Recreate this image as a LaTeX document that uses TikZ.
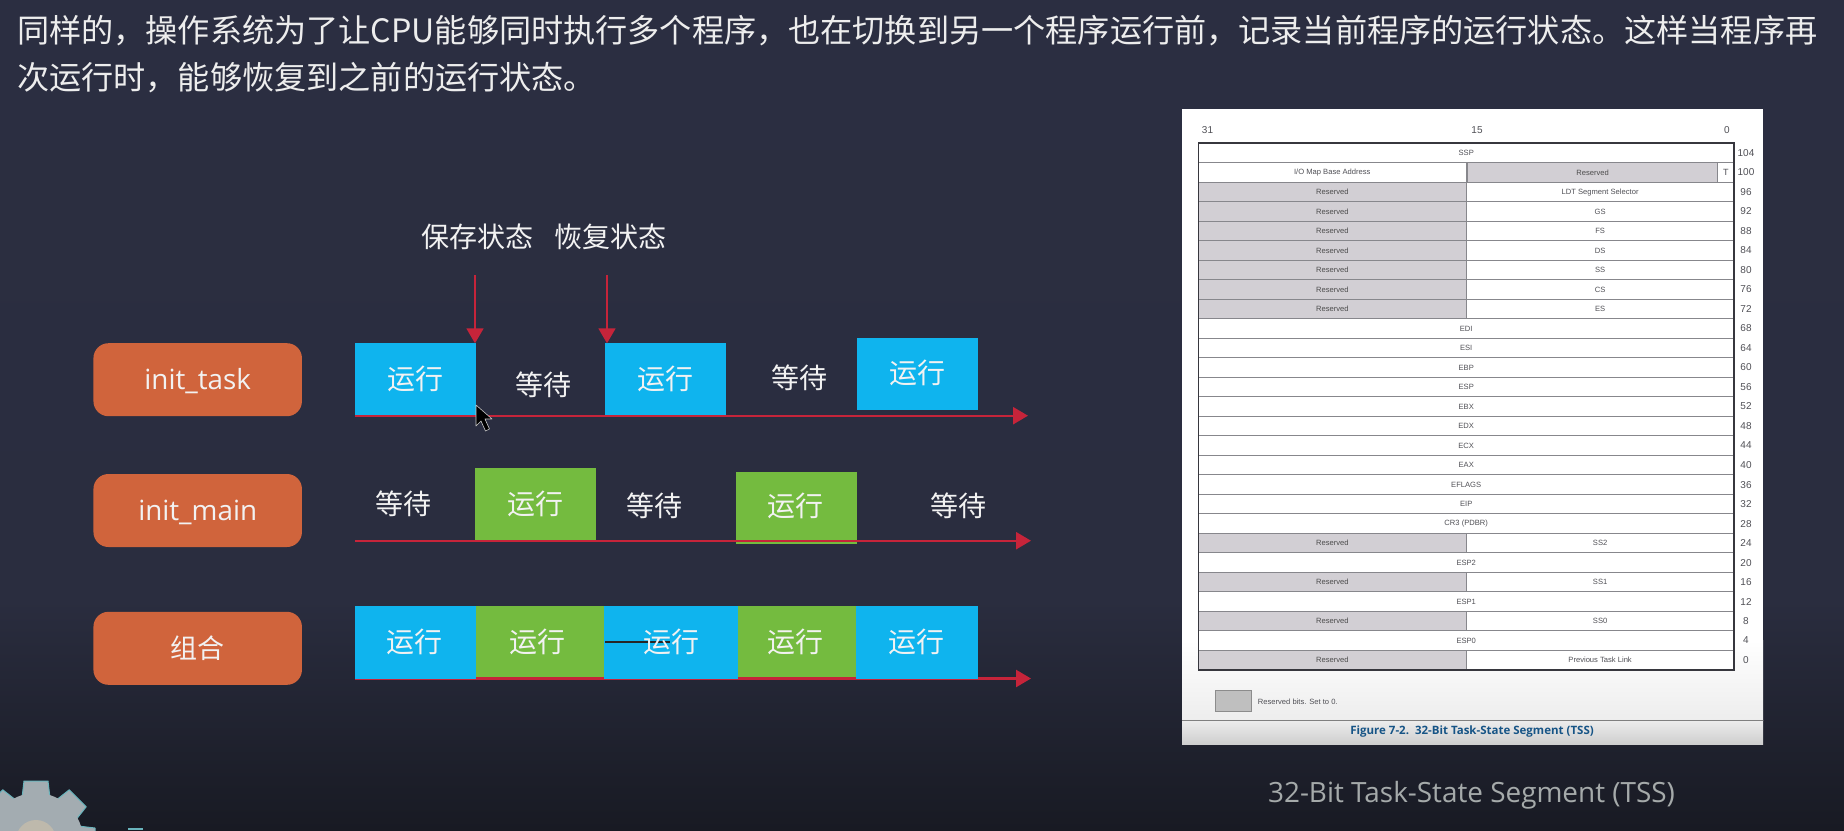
\documentclass[tikz,border=0pt]{standalone}
\usepackage{fontspec}
\usetikzlibrary{arrows.meta}
\setmainfont{Open Sans}
\newfontfamily\cjk{Noto Sans CJK SC}
\newfontfamily\tbl{Liberation Sans}
\definecolor{bgtop}{RGB}{43,46,65}
\definecolor{bgmid}{RGB}{42,45,63}
\definecolor{bgbot}{RGB}{24,26,35}
\definecolor{runblue}{RGB}{15,180,238}
\definecolor{rungreen}{RGB}{116,187,63}
\definecolor{pillor}{RGB}{208,100,60}
\definecolor{axisred}{RGB}{198,36,58}
\definecolor{resgrey}{RGB}{210,207,212}
\definecolor{rowline}{RGB}{135,135,140}
\definecolor{frameline}{RGB}{55,55,62}
\definecolor{tabtext}{RGB}{80,80,86}
\definecolor{capblue}{RGB}{22,84,134}
\definecolor{capgrey}{RGB}{165,170,170}
\definecolor{gearc}{RGB}{163,172,177}
\definecolor{gearhole}{RGB}{190,185,172}
\definecolor{tealbit}{RGB}{105,180,188}
\tikzset{
  x=1pt,y=-1pt,
  titletext/.style={anchor=west,inner sep=0,text=white!93!black,font=\cjk\fontsize{32.15}{32}\selectfont},
  cjktext/.style={inner sep=0,text=white!95!black,font=\cjk\fontsize{28}{28}\selectfont},
  pill/.style={rounded corners=15pt,fill=pillor,minimum width=208.5pt,minimum height=73pt,inner sep=0},
  pilltext/.style={inner sep=0,text=white!95!black,font=\fontsize{27.8}{28}\selectfont},
  runbox/.style={minimum width=#1,inner sep=0,minimum height=72pt},
  bluebox/.style={runbox=121pt,fill=runblue},
  greenbox/.style={runbox=121pt,fill=rungreen},
  axisline/.style={draw=axisred,line width=2.4pt,-{Triangle[length=15pt,width=17pt]}},
  downarrow/.style={draw=axisred,line width=1.8pt,-{Triangle[length=15pt,width=17pt]}},
  fullrow/.style={draw=rowline,line width=.9pt,fill=white,minimum width=535.6pt,minimum height=19.5pt,inner sep=0,text=tabtext,font=\tbl\fontsize{7.6}{8}\selectfont},
  halfrow/.style={fullrow,minimum width=267.8pt},
  resrow/.style={halfrow,fill=resgrey,text=black!70},
  numtext/.style={inner sep=0,text=tabtext,font=\tbl\fontsize{10}{10}\selectfont},
}
\begin{document}
\begin{tikzpicture}
\useasboundingbox (0,0) rectangle (1844,830);
\clip (0,0) rectangle (1844,830);
% background
\fill[top color=bgtop,bottom color=bgmid] (0,0) rectangle (1844,600);
\fill[top color=bgmid,bottom color=bgbot] (0,600) rectangle (1844,830);
% title
\node[titletext] (t1) at (17,31) {同样的，操作系统为了让CPU能够同时执行多个程序，也在切换到另一个程序运行前，记录当前程序的运行状态。这样当程序再};
\node[titletext] (t2) at (17,78) {次运行时，能够恢复到之前的运行状态。};
% gear
\begin{scope}[shift={(36,840)}]
  \foreach \a in {0,45,...,315}
    \filldraw[fill=gearc,draw=tealbit,line width=1pt,line join=round,rotate=\a] (-12,-59) -- (12,-59) -- (14,-42) -- (-14,-42) -- cycle;
  \fill[gearc] (0,0) circle (47);
  \fill[gearhole] (0,0) circle (20);
\end{scope}
\fill[tealbit] (128,827.5) rectangle (143,830);
% pills
\node[pill] (p1) at (197.7,379.7) {};
\node[pilltext] (p1t) at (197.7,381.5) {init\_task};
\node[pill] (p2) at (197.7,510.5) {};
\node[pilltext] (p2t) at (197.7,512.5) {init\_main};
\node[pill] (p3) at (197.7,648.3) {};
\node[pilltext,font=\cjk\fontsize{27}{28}\selectfont] (p3t) at (197.7,648.3) {组合};
% row 1
\node[bluebox] (b1) at (415.5,379.2) {};
\node[bluebox] (b2) at (665,379.2) {};
\node[bluebox] (b3) at (917,373.5) {};
\node[cjktext] (l1) at (415,379) {运行};
\node[cjktext] (l2) at (665,379) {运行};
\node[cjktext] (l3) at (917,373) {运行};
\node[cjktext] (w1) at (543,385) {等待};
\node[cjktext] (w2) at (799,378) {等待};
\coordinate (a1s) at (355,415.7);
\coordinate (a1e) at (1028,415.7);
\draw[axisline] (a1s) -- (a1e);
% state arrows
\node[cjktext] (save) at (477.5,236.5) {保存状态};
\node[cjktext] (rest) at (610.5,236.5) {恢复状态};
\coordinate (s1) at (475,275.3);
\coordinate (s2) at (475,343.3);
\coordinate (r1) at (607,275.3);
\coordinate (r2) at (607,343.3);
\draw[downarrow] (s1) -- (s2);
\draw[downarrow] (r1) -- (r2);
% cursor
\filldraw[fill=black,draw=white!80!black,line width=.6pt,line join=round]
  (476,405) -- (476,426) -- (481,421) -- (485.5,431) -- (489.5,429) -- (485,419) -- (492,419) -- cycle;
% row 2
\node[greenbox] (g1) at (535.5,504) {};
\node[greenbox] (g2) at (796,508) {};
\node[cjktext] (m1) at (403.4,504) {等待};
\node[cjktext] (m2) at (535,504) {运行};
\node[cjktext] (m3) at (654,506) {等待};
\node[cjktext] (m4) at (795,506) {运行};
\node[cjktext] (m5) at (958,506) {等待};
\coordinate (a2s) at (355,540.7);
\coordinate (a2e) at (1031,540.7);
\draw[axisline] (a2s) -- (a2e);
% row 3
\node[runbox=134pt,fill=rungreen] (c2) at (537.5,642.3) {};
\node[runbox=118pt,fill=rungreen] (c4) at (797,642.3) {};
\coordinate (a3s) at (355,678.5);
\coordinate (a3e) at (1031,678.5);
\draw[axisline] (a3s) -- (a3e);
\node[runbox=121pt,minimum height=73.3pt,fill=runblue] (c1) at (415.5,642.3) {};
\node[runbox=134pt,minimum height=73.3pt,fill=runblue] (c3) at (671,642.3) {};
\node[runbox=121.6pt,minimum height=73.3pt,fill=runblue] (c5) at (916.8,642.3) {};
\coordinate (d1) at (605,642);
\coordinate (d2) at (670,642);
\draw[black!85,line width=1.2pt] (d1) -- (d2);
\node[cjktext] (cl1) at (414.5,642) {运行};
\node[cjktext] (cl2) at (537,642) {运行};
\node[cjktext] (cl3) at (671,642) {运行};
\node[cjktext] (cl4) at (795,642) {运行};
\node[cjktext] (cl5) at (916.6,642) {运行};
% TSS panel
\fill[white] (1182,109) rectangle (1763,640);
\fill[top color=white,bottom color=black!7] (1182,640) rectangle (1763,720);
\fill[top color=black!7,bottom color=black!19] (1182,720) rectangle (1763,744);
\draw[black!50,line width=.9pt] (1182,720) -- (1763,720);
\node[numtext] (h31) at (1207.5,130) {31};
\node[numtext] (h15) at (1477,130) {15};
\node[numtext] (h0) at (1727,130) {0};
\foreach \k/\num/\lab in {0/104/SSP,9/68/EDI,10/64/ESI,11/60/EBP,12/56/ESP,13/52/EBX,14/48/EDX,15/44/ECX,16/40/EAX,17/36/EFLAGS,18/32/EIP,19/28/CR3 (PDBR),21/20/ESP2,23/12/ESP1,25/4/ESP0}{
  \pgfmathsetmacro{\yy}{143.3+19.5*(\k+.5)}
  \node[fullrow] (r\num) at (1466.2,\yy) {\lab};
  \node[numtext] (n\num) at (1746,\yy) {\num};
}
\foreach \k/\num/\lab in {2/96/LDT Segment Selector,3/92/GS,4/88/FS,5/84/DS,6/80/SS,7/76/CS,8/72/ES,20/24/SS2,22/16/SS1,24/8/SS0,26/0/Previous Task Link}{
  \pgfmathsetmacro{\yy}{143.3+19.5*(\k+.5)}
  \node[resrow] (q\num) at (1332.3,\yy) {Reserved};
  \node[halfrow] (r\num) at (1600.1,\yy) {\lab};
  \node[numtext] (n\num) at (1746,\yy) {\num};
}
% row 100
\node[halfrow] (q100) at (1332.3,172.55) {I/O Map Base Address};
\node[resrow,minimum width=250.3pt] (m100) at (1592.55,172.55) {Reserved};
\node[fullrow,minimum width=16.3pt] (t100) at (1725.85,172.55) {\fontsize{9}{9}\selectfont T};
\node[numtext] (n100) at (1746,172.55) {100};
% frame
\draw[frameline,line width=1.7pt] (1198.4,143.3) rectangle (1734,670);
% legend
\node[draw=black!45,line width=1pt,fill=black!25,minimum width=36.6pt,minimum height=21pt,inner sep=0] (key) at (1233.3,700.5) {};
\node[anchor=west,inner sep=0,text=tabtext,font=\tbl\fontsize{7.6}{8}\selectfont] (keyt) at (1257.7,701.7) {Reserved bits. Set to 0.};
\node[inner sep=0,text=capblue,font=\bfseries\fontsize{11.5}{12}\selectfont] (fig) at (1472,731.7) {Figure 7-2.\ \ 32-Bit Task-State Segment (TSS)};
\node[inner sep=0,text=capgrey,font=\fontsize{27.9}{28}\selectfont] (cap) at (1471.5,795.5) {32-Bit Task-State Segment (TSS)};
\end{tikzpicture}
\end{document}
